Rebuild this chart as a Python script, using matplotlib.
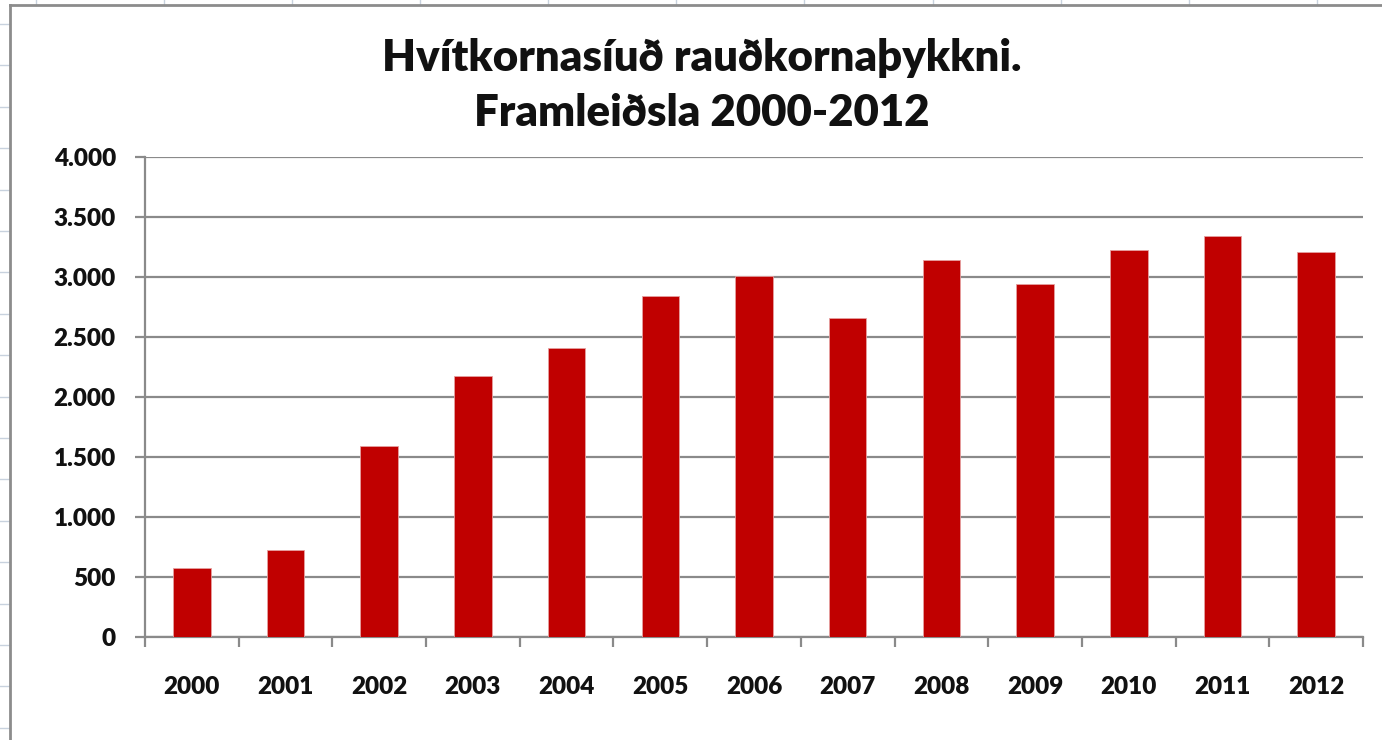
import matplotlib
matplotlib.use("Agg")
import matplotlib.pyplot as plt
from matplotlib.lines import Line2D
import numpy as np

years = ["2000", "2001", "2002", "2003", "2004", "2005", "2006",
         "2007", "2008", "2009", "2010", "2011", "2012"]
values = [575, 725, 1590, 2175, 2408, 2842, 3005, 2656, 3142, 2942, 3225, 3344, 3206]
yticks = [0, 500, 1000, 1500, 2000, 2500, 3000, 3500, 4000]
ytick_labels = ["0", "500", "1.000", "1.500", "2.000", "2.500", "3.000", "3.500", "4.000"]
title_line1 = "Hvítkornasíuð rauðkornaþykkni."
title_line2 = "Framleiðsla 2000-2012"

W, H = 1382, 740
fig = plt.figure(figsize=(W / 100, H / 100), dpi=100)
fig.patch.set_facecolor("white")

# spreadsheet background grid (outside the chart area)
grid_c = "#c8d2de"
for x in [36, 164, 292, 420, 548, 676, 804, 933, 1061, 1189, 1317]:
    fig.add_artist(Line2D([x / W, x / W], [1, 1 - 5 / H], color=grid_c, lw=1))
for y in np.arange(24, 740, 41.4):
    fig.add_artist(Line2D([0, 10 / W], [1 - y / H, 1 - y / H], color=grid_c, lw=1))
# chart area border
fig.add_artist(Line2D([10 / W, 10 / W], [0, 1 - 5 / H], color="#8c8c8c", lw=2))
fig.add_artist(Line2D([10 / W, 1], [1 - 5 / H, 1 - 5 / H], color="#8c8c8c", lw=2))

left, right, top, bottom = 145, 1363, 157, 637
ax = fig.add_axes([left / W, 1 - bottom / H, (right - left) / W, (bottom - top) / H])

x = np.arange(len(years))
ax.bar(x, values, width=0.4, color="#C00000", edgecolor="#e6a0a0", linewidth=0.6, zorder=3)

ax.set_xlim(-0.5, len(years) - 0.5)
ax.set_ylim(0, 4000)
ax.set_yticks(yticks)
ax.set_yticklabels(ytick_labels)
ax.yaxis.grid(True, color="#8a8a8a", linewidth=1.6, zorder=0)
ax.set_axisbelow(True)

ax.set_xticks(x)
ax.set_xticklabels(years)
ax.set_xticks(np.arange(-0.5, len(years)), minor=True)
ax.tick_params(axis="x", which="major", length=0, pad=28)
ax.tick_params(axis="x", which="minor", length=7, width=1.6, color="#8a8a8a", direction="out")
ax.tick_params(axis="y", which="major", length=7, width=1.6, color="#8a8a8a", direction="out", pad=14)

for lab in ax.get_xticklabels() + ax.get_yticklabels():
    lab.set_fontfamily("Lato")
    lab.set_fontweight("heavy")
    lab.set_fontsize(17.5)
    lab.set_color("#111111")

for s in ["top", "right"]:
    ax.spines[s].set_visible(False)
for s in ["left", "bottom"]:
    ax.spines[s].set_color("#8a8a8a")
    ax.spines[s].set_linewidth(1.6)

fig.text(702 / W, 1 - 58 / H, title_line1, ha="center", va="center",
         fontfamily="Lato", fontweight="heavy", fontsize=31.5, color="#111111")
fig.text(702 / W, 1 - 113 / H, title_line2, ha="center", va="center",
         fontfamily="Lato", fontweight="heavy", fontsize=31.5, color="#111111")

fig.savefig("out.png", dpi=100, facecolor="white")
